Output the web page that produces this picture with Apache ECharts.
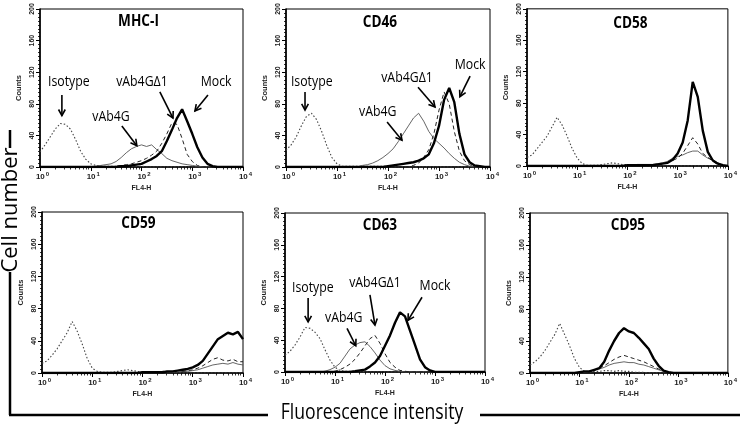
<!DOCTYPE html>
<html><head><meta charset="utf-8">
<script src="https://cdn.jsdelivr.net/npm/echarts@6/dist/echarts.min.js"></script>
<style>html,body{margin:0;padding:0;background:#fff}#c{width:740px;height:427px}</style>
</head><body><div id="c"></div>
<script>
// Fluorescence channel positions (FL4-H), 0.1-decade bins from 10^0 to 10^4
const fluor = [1,1.259,1.585,1.995,2.512,3.162,3.981,5.012,6.31,7.943,
  10,12.59,15.85,19.95,25.12,31.62,39.81,50.12,63.1,79.43,
  100,125.9,158.5,199.5,251.2,316.2,398.1,501.2,631,794.3,
  1000,1259,1585,1995,2512,3162,3981,5012,6310,7943,10000];

const panelTitles = ['MHC-I','CD46','CD58','CD59','CD63','CD95'];
const seriesNames = ['Isotype','vAb4G','vAb4G\u03941','Mock'];
const yTicks = [0,40,80,120,160,200];

// MHC-I
const mhc1Isotype = [19,28,38,48,55,54,48,35,20,10, 4,2,1,1,1,1,1,1,1,1, 1,0,0,0,0,0,0,0,0,0, 0,0,0,0,0,0,0,0,0,0, 0];
const mhc1VAb4G   = [0,0,0,0,0,0,0,0,0,0, 0,1,2,3,4,7,12,18,23,26, 28,26,28,22,17,11,8,6,4,3, 2,1,0,0,0,0,0,0,0,0, 0];
const mhc1VAb4GD1 = [0,0,0,0,0,0,0,0,0,0, 0,0,0,0,0,1,2,3,4,6, 8,11,15,20,30,42,56,54,36,16, 7,2,0,0,0,0,0,0,0,0, 0];
const mhc1Mock    = [0,0,0,0,0,0,0,0,0,0, 0,0,0,0,0,0,1,1,2,3, 4,7,10,14,20,33,47,62,73,58, 42,25,12,4,1,0,0,0,0,0, 0];
// CD46
const cd46Isotype = [21,28,38,52,64,68,60,45,27,12, 4,1,1,1,1,1,1,1,1,1, 1,0,0,0,0,0,0,0,0,0, 0,0,0,0,0,0,0,0,0,0, 0];
const cd46VAb4G   = [0,0,0,0,0,0,0,0,0,0, 0,0,0,0,0,2,3,5,8,12, 17,23,32,42,52,62,68,58,45,36, 30,24,17,11,6,3,1,0,0,0, 0];
const cd46VAb4GD1 = [0,0,0,0,0,0,0,0,0,0, 0,0,0,0,0,0,0,0,0,0, 0,0,0,0,0,2,5,12,22,42, 72,95,80,45,20,8,3,0,0,0, 0];
const cd46Mock    = [0,0,0,0,0,0,0,0,0,0, 0,0,0,0,0,0,0,0,0,0, 1,2,3,4,5,6,8,11,16,30, 52,85,100,82,42,16,6,2,1,0, 0];
// CD58
const cd58Isotype = [11,14,22,30,38,50,62,52,38,22, 10,3,1,1,1,2,3,4,3,2, 2,1,1,1,0,0,0,0,0,0, 0,0,0,0,0,0,0,0,0,0, 0];
const cd58VAb4G   = [0,0,0,0,0,0,0,0,0,0, 0,0,0,0,0,0,0,0,0,0, 1,1,2,2,2,2,3,4,6,10, 12,14,17,19,19,14,10,8,4,1, 0];
const cd58VAb4GD1 = [0,0,0,0,0,0,0,0,0,0, 0,0,0,0,0,0,0,0,0,0, 0,0,0,0,0,0,2,3,4,7, 10,16,26,36,28,16,11,6,2,0, 0];
const cd58Mock    = [0,0,0,0,0,0,0,0,0,0, 0,0,0,0,0,0,0,0,0,0, 1,1,1,1,1,1,2,3,4,8, 16,30,58,107,88,45,18,7,3,1, 0];
// CD59
const cd59Isotype = [12,15,22,30,40,50,64,52,36,18, 6,2,1,1,1,2,3,4,3,2, 1,1,1,1,2,2,1,0,0,0, 0,0,0,0,0,0,0,0,0,0, 0];
const cd59VAb4G   = [0,0,0,0,0,0,0,0,0,0, 0,0,0,0,0,0,0,0,0,0, 0,0,0,0,0,0,1,1,2,2, 3,4,6,8,10,11,12,11,13,11, 10];
const cd59VAb4GD1 = [0,0,0,0,0,0,0,0,0,0, 0,0,0,0,0,0,0,0,0,0, 0,0,0,0,0,0,0,0,2,3, 4,6,9,13,17,19,16,15,17,14, 14];
const cd59Mock    = [0,0,0,0,0,0,0,0,0,0, 0,0,0,0,0,0,0,0,0,0, 1,1,1,1,1,2,2,3,4,5, 7,10,15,24,33,42,46,50,48,51, 42];
// CD63
const cd63Isotype = [21,26,34,44,56,55,50,42,28,15, 6,2,1,1,1,1,0,0,0,0, 0,0,0,0,0,0,0,0,0,0, 0,0,0,0,0,0,0,0,0,0, 0];
const cd63VAb4G   = [0,0,0,0,0,0,0,0,1,3, 6,11,20,29,34,37,38,32,24,15, 8,4,2,1,0,0,0,0,0,0, 0,0,0,0,0,0,0,0,0,0, 0];
const cd63VAb4GD1 = [0,0,0,0,0,0,0,0,0,0, 1,3,6,10,16,24,33,42,46,36, 23,12,6,2,1,0,0,0,0,0, 0,0,0,0,0,0,0,0,0,0, 0];
const cd63Mock    = [0,0,0,0,0,0,0,0,0,0, 0,0,0,0,1,2,3,7,12,20, 33,46,62,75,70,52,34,16,6,2, 0,0,0,0,0,0,0,0,0,0, 0];
// CD95
const cd95Isotype = [10,14,20,28,38,48,62,48,34,18, 7,2,1,2,2,3,3,2,3,2, 2,1,1,1,0,0,0,0,0,0, 0,0,0,0,0,0,0,0,0,0, 0];
const cd95VAb4G   = [0,0,0,0,0,0,0,0,0,0, 0,1,2,4,5,7,10,12,13,14, 13,13,11,10,8,6,4,2,1,0, 0,0,0,0,0,0,0,0,0,0, 0];
const cd95VAb4GD1 = [0,0,0,0,0,0,0,0,0,0, 0,1,2,3,6,9,13,17,20,22, 20,18,16,14,11,8,5,3,1,0, 0,0,0,0,0,0,0,0,0,0, 0];
const cd95Mock    = [0,0,0,0,0,0,0,0,0,0, 1,2,2,4,6,14,28,40,50,56, 52,50,44,37,30,18,9,3,1,0, 0,0,0,0,0,0,0,0,0,0, 0];

const panelData = [
  [mhc1Isotype, mhc1VAb4G, mhc1VAb4GD1, mhc1Mock],
  [cd46Isotype, cd46VAb4G, cd46VAb4GD1, cd46Mock],
  [cd58Isotype, cd58VAb4G, cd58VAb4GD1, cd58Mock],
  [cd59Isotype, cd59VAb4G, cd59VAb4GD1, cd59Mock],
  [cd63Isotype, cd63VAb4G, cd63VAb4GD1, cd63Mock],
  [cd95Isotype, cd95VAb4G, cd95VAb4GD1, cd95Mock]
];

// Annotation labels and arrows (data coordinates: [fluorescence, count])
const labelNotes = [
  [0,'Isotype',3.7,108],[0,'vAb4G',25,63],[0,'vAb4G\u03941',102,108],[0,'Mock',2950,108],
  [1,'Isotype',3.2,108],[1,'vAb4G',63,70],[1,'vAb4G\u03941',236,113],[1,'Mock',4070,129],
  [4,'Isotype',3.6,106],[4,'vAb4G',15,68],[4,'vAb4G\u03941',63,112],[4,'Mock',1000,109]
];
const arrowNotes = [
  [0,2.7,91,2.7,65],[0,41,52,81,27],[0,230,95,417,62],[0,2040,91,1130,71],
  [1,2.36,95,2.36,72],[1,96,57,188,34],[1,388,101,835,76],[1,4070,115,2570,89],
  [4,2.9,93,2.9,63],[4,17.4,55,26,33],[4,50,97,63,59],[4,550,94,288,65]
];

// ---- layout & styles ----
const grids = [
  {left:40, top:9, width:203, height:158},
  {left:286, top:9, width:204, height:158},
  {left:527, top:7, width:201, height:159},
  {left:42, top:212, width:201, height:161},
  {left:285, top:213, width:200, height:159},
  {left:530, top:213, width:208, height:160}
];
const lineStyles = [
  {color:'#444', width:1.1, type:[1.5,2]},
  {color:'#555', width:0.9, type:'solid'},
  {color:'#222', width:1, type:[4,3]},
  {color:'#000', width:2.4, type:'solid'}
];
const smallFont = 'Liberation Sans';

const chart = echarts.init(document.getElementById('c'), null, {renderer:'canvas'});

const option = {
  animation:false,
  backgroundColor:'#fff',
  grid: grids.map(g => Object.assign({}, g, {show:true, borderColor:'#000', borderWidth:1, backgroundColor:'transparent', containLabel:false})),
  xAxis: grids.map((g,i) => ({
    gridIndex:i, type:'log', logBase:10, min:1, max:10000,
    name:'FL4-H', nameLocation:'middle', nameGap:18,
    nameTextStyle:{fontSize:7, fontWeight:'bold', fontFamily:smallFont, color:'#222'},
    axisLine:{show:true, lineStyle:{color:'#000', width:1.6}},
    axisTick:{show:true, length:4, lineStyle:{color:'#000', width:1}},
    minorTick:{show:true, splitNumber:9, length:2.5, lineStyle:{color:'#000', width:0.8}},
    splitLine:{show:false}, minorSplitLine:{show:false},
    axisLabel:{margin:4, formatter:(v)=>'{b|10}{s|'+Math.round(Math.log10(v))+'}',
      rich:{
        b:{fontSize:8, fontWeight:'bold', fontFamily:smallFont, color:'#222', padding:[0,0,0,5]},
        s:{fontSize:6, fontWeight:'bold', fontFamily:smallFont, color:'#222', padding:[0,0,5,1]}
      }}
  })),
  yAxis: grids.map((g,i) => ({
    gridIndex:i, type:'value', min:0, max:200, interval:40,
    name:'Counts', nameLocation:'middle', nameRotate:90, nameGap:17,
    nameTextStyle:{fontSize:7.5, fontWeight:'bold', fontFamily:smallFont, color:'#222'},
    axisLine:{show:true, lineStyle:{color:'#000', width:1.6}},
    axisTick:{show:true, length:4, lineStyle:{color:'#000', width:1}},
    minorTick:{show:true, splitNumber:8, length:2, lineStyle:{color:'#000', width:0.8}},
    splitLine:{show:false},
    axisLabel:{rotate:90, fontSize:7, fontWeight:'bold', fontFamily:smallFont, color:'#222', margin:4,
      formatter:(v)=> yTicks.indexOf(v) >= 0 ? String(v) : ''}
  })),
  series: []
};

panelData.forEach((sets, i) => {
  sets.forEach((arr, s) => {
    option.series.push({
      type:'line', name:seriesNames[s], xAxisIndex:i, yAxisIndex:i,
      data: fluor.map((x,k)=>[x, arr[k]]),
      showSymbol:false, symbol:'none', silent:true, z:2+s,
      lineStyle: Object.assign({}, lineStyles[s])
    });
  });
});

chart.setOption(option);

// ---- graphics: titles, annotations, frame ----
const graphics = [];
const titleOffsets = [[-3,12],[-8,13],[3,16],[-4,11],[-5,12],[-6,12]];
panelTitles.forEach((t,i) => {
  const g = grids[i];
  graphics.push({type:'text', x:g.left + g.width/2 + titleOffsets[i][0], y:g.top + titleOffsets[i][1], scaleX:0.85,
    style:{text:t, font:'bold 16px "Open Sans"', fill:'#000', align:'center', verticalAlign:'middle'}, z:20});
});
labelNotes.forEach(n => {
  const p = chart.convertToPixel({gridIndex:n[0]}, [n[2], n[3]]);
  graphics.push({type:'text', x:p[0], y:p[1], scaleX:0.82,
    style:{text:n[1], font:'15px "Open Sans"', fill:'#000', align:'center', verticalAlign:'middle'}, z:20});
});
arrowNotes.forEach(a => {
  const p1 = chart.convertToPixel({gridIndex:a[0]}, [a[1], a[2]]);
  const p2 = chart.convertToPixel({gridIndex:a[0]}, [a[3], a[4]]);
  const ang = Math.atan2(p2[1]-p1[1], p2[0]-p1[0]);
  const L = 7, w = 0.5;
  const h1 = [p2[0] - L*Math.cos(ang - w), p2[1] - L*Math.sin(ang - w)];
  const h2 = [p2[0] - L*Math.cos(ang + w), p2[1] - L*Math.sin(ang + w)];
  graphics.push({type:'line', shape:{x1:p1[0], y1:p1[1], x2:p2[0], y2:p2[1]}, style:{stroke:'#000', lineWidth:1.6}, z:20});
  graphics.push({type:'polyline', shape:{points:[h1, p2, h2]}, style:{stroke:'#000', lineWidth:1.6, fill:null}, z:20});
});
// frame
graphics.push({type:'line', shape:{x1:10, y1:130, x2:10, y2:148}, style:{stroke:'#000', lineWidth:2.5}});
graphics.push({type:'line', shape:{x1:10, y1:272, x2:10, y2:415}, style:{stroke:'#000', lineWidth:2.5}});
graphics.push({type:'line', shape:{x1:9, y1:415, x2:268, y2:415}, style:{stroke:'#000', lineWidth:2.5}});
graphics.push({type:'line', shape:{x1:480, y1:415, x2:740, y2:415}, style:{stroke:'#000', lineWidth:2.5}});
graphics.push({type:'text', x:11, y:210, rotation:Math.PI/2,
  style:{text:'Cell number', font:'22px "Open Sans"', fill:'#000', align:'center', verticalAlign:'middle'}});
graphics.push({type:'text', x:372, y:413, scaleX:0.8,
  style:{text:'Fluorescence intensity', font:'22px "Open Sans"', fill:'#000', align:'center', verticalAlign:'middle'}});

chart.setOption({graphic: graphics});
</script>
</body></html>
